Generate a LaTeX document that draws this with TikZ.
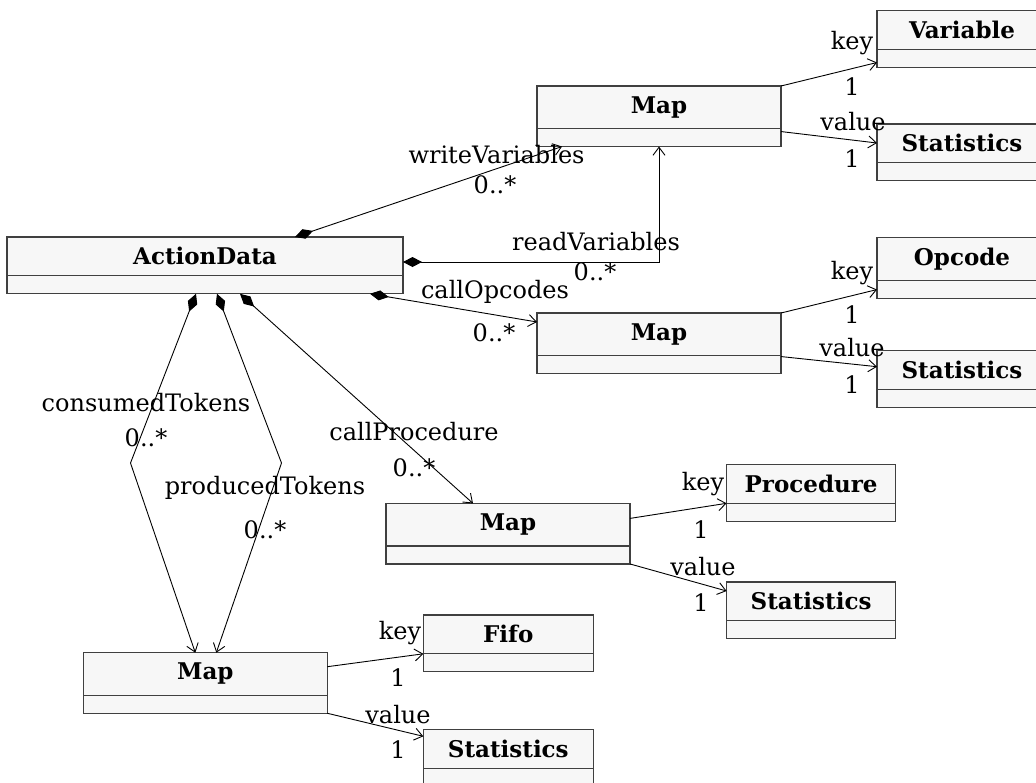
\documentclass[tikz,border=0pt]{standalone}
\usepackage{fontspec}
\setmainfont{DejaVu Serif}
\usetikzlibrary{arrows.meta,calc}

% class box: name compartment plus an empty attribute compartment
\newcommand\umlclass[4]{%
  \node[classname, minimum width=#3] (#1) at #2 {#4};
  \node[classattr, minimum width=#3] (#1-attr) at (#1.south) {};
}

\begin{document}
\begin{tikzpicture}[x=1pt,y=-1pt,
  lbl/.style={inner sep=0pt, font=\fontsize{24}{28}\selectfont},
  classname/.style={draw=black!75, fill=gray!6, line width=1.1pt, outer sep=0pt, inner xsep=0pt,
    inner ysep=10.5pt, font=\fontsize{23}{27}\selectfont\bfseries, anchor=north west},
  classattr/.style={draw=black!75, fill=gray!6, line width=1.1pt, outer sep=0pt, inner sep=0pt,
    minimum height=18pt, anchor=north},
  assoc/.style={line width=0.9pt, -{Straight Barb[length=8pt,width=12pt]}},
  comp/.style={line width=0.9pt, {Diamond[length=19pt,width=10pt]}-{Straight Barb[length=8pt,width=12pt]}}
]
\useasboundingbox (0,0) rectangle (1036,782);
\fill[white] (0,0) rectangle (1036,782);
\clip (0,0) rectangle (1036,782);

% classes
\umlclass{actiondata}{(7,237)}{396}{ActionData}
\umlclass{map1}{(537,86)}{244}{Map}
\umlclass{variable}{(877,10.7)}{170}{Variable}
\umlclass{stats1}{(877,124)}{170}{Statistics}
\umlclass{map2}{(537,313)}{244}{Map}
\umlclass{opcode}{(877,237.3)}{170}{Opcode}
\umlclass{stats2}{(877,350.7)}{170}{Statistics}
\umlclass{map3}{(386,503.4)}{244}{Map}
\umlclass{procedure}{(726.6,464.5)}{169}{Procedure}
\umlclass{stats3}{(726.6,582)}{169}{Statistics}
\umlclass{map4}{(83.3,652.7)}{244}{Map}
\umlclass{fifo}{(423.3,615)}{170}{Fifo}
\umlclass{stats4}{(423.3,729.3)}{170}{Statistics}

% bend points of the token associations
\coordinate (cbend) at (130.5,463);
\coordinate (pbend) at (281.5,463);

% compositions from ActionData
\draw[comp] ($(actiondata.north west)+(288,0)$) -- ($(map1-attr.south west)+(25,0)$);
\draw[comp] ($(actiondata.north east)+(0,25)$) -| (map1-attr.south);
\draw[comp] ($(actiondata-attr.south west)+(363,0)$) -- ($(map2.north west)+(0,9)$);
\draw[comp] ($(actiondata-attr.south west)+(233,0)$) -- ($(map3.north west)+(87,0)$);
\draw[comp] ($(actiondata-attr.south west)+(189,0)$) -- (cbend) -- ($(map4.north west)+(112,0)$);
\draw[comp] ($(actiondata-attr.south west)+(210,0)$) -- (pbend) -- ($(map4.north west)+(133,0)$);

% key / value associations of the maps
\draw[assoc] (map1.north east) -- ($(variable-attr.south west)+(0,-5)$);
\draw[assoc] ($(map1.south east)+(0,3)$) -- ($(stats1.north west)+(0,19)$);
\draw[assoc] (map2.north east) -- ($(opcode-attr.south west)+(0,-9)$);
\draw[assoc] ($(map2.south east)+(0,1)$) -- ($(stats2.north west)+(0,16)$);
\draw[assoc] ($(map3.north east)+(0,15)$) -- (procedure.south west);
\draw[assoc] (map3-attr.south east) -- ($(stats3.north west)+(0,9)$);
\draw[assoc] ($(map4.north east)+(0,14)$) -- (fifo.south west);
\draw[assoc] (map4-attr.south east) -- ($(stats4.north west)+(0,7)$);

% role names and multiplicities
\node[lbl] (l-wv) at (496.5,155) {writeVariables};
\node[lbl] (m-wv) at (495,185) {0..*};
\node[lbl] (l-rv) at (596,242) {readVariables};
\node[lbl] (m-rv) at (595,272) {0..*};
\node[lbl] (l-co) at (495,292) {callOpcodes};
\node[lbl] (m-co) at (494,333) {0..*};
\node[lbl] (l-ct) at (146,403) {consumedTokens};
\node[lbl] (m-ct) at (146,438) {0..*};
\node[lbl] (l-pt) at (265,488) {producedTokens};
\node[lbl] (m-pt) at (265,530) {0..*};
\node[lbl] (l-cp) at (414,432) {callProcedure};
\node[lbl] (m-cp) at (414,468) {0..*};

\node[lbl] (k1) at (852,43) {key};
\node[lbl] (k1m) at (852,87) {1};
\node[lbl] (v1) at (853,122) {value};
\node[lbl] (v1m) at (852,159) {1};
\node[lbl] (k2) at (852,273) {key};
\node[lbl] (k2m) at (852,315) {1};
\node[lbl] (v2) at (852,348) {value};
\node[lbl] (v2m) at (852,385) {1};
\node[lbl] (k3) at (703,484.5) {key};
\node[lbl] (k3m) at (701,530) {1};
\node[lbl] (v3) at (703,567) {value};
\node[lbl] (v3m) at (701,603) {1};
\node[lbl] (k4) at (400,633) {key};
\node[lbl] (k4m) at (398,678) {1};
\node[lbl] (v4) at (398,715) {value};
\node[lbl] (v4m) at (398,750) {1};
\end{tikzpicture}
\end{document}
